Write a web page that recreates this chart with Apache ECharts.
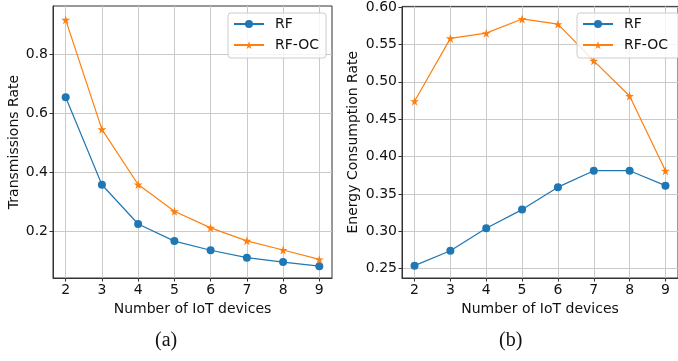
<!DOCTYPE html>
<html>
<head>
<meta charset="utf-8">
<script src="https://cdn.jsdelivr.net/npm/echarts@6/dist/echarts.min.js"></script>
<style>
  html, body { margin: 0; padding: 0; background: #fff; }
  #chart { width: 678px; height: 361px; }
</style>
</head>
<body>
<div id="chart"></div>
<script>
// x values (number of IoT devices)
const devices = [2, 3, 4, 5, 6, 7, 8, 9];

// (a) transmissions rate
const transRF = [0.655, 0.358, 0.225, 0.167, 0.136, 0.111, 0.096, 0.082];
const transRFOC = [0.917, 0.546, 0.359, 0.268, 0.212, 0.168, 0.137, 0.105];

// (b) energy consumption rate
const energyRF = [0.254, 0.274, 0.304, 0.329, 0.359, 0.381, 0.381, 0.361];
const energyRFOC = [0.474, 0.558, 0.565, 0.584, 0.577, 0.528, 0.481, 0.381];

// tick labels
const leftTicks = [0.2, 0.4, 0.6, 0.8];
const rightTicks = [0.25, 0.30, 0.35, 0.40, 0.45, 0.50, 0.55, 0.60];

const blue = "#1f77b4";
const orange = "#ff7f0e";
const starPath = "path://M50,0 L61,35 L98,35 L68,57 L79,91 L50,70 L21,91 L32,57 L2,35 L39,35 Z";
const font = "DejaVu Sans";
const textColor = "#111";

const pairs = (ys) => devices.map((x, i) => [x, ys[i]]);

function xAxisFor(gridIndex) {
  return {
    type: "value",
    gridIndex: gridIndex,
    min: 1.65,
    max: 9.35,
    name: "Number of IoT devices",
    nameLocation: "middle",
    nameGap: 21,
    nameTextStyle: { fontFamily: font, fontSize: 14, color: textColor },
    axisLine: { show: true, onZero: false, lineStyle: { color: "#333", width: 1 } },
    axisTick: { show: true, length: 3.5, customValues: devices, lineStyle: { color: "#333" } },
    axisLabel: { customValues: devices, margin: 5, fontFamily: font, fontSize: 14, color: textColor },
    splitLine: { show: true, lineStyle: { color: "#cacaca", width: 1 } },
  };
}

function yAxisFor(gridIndex, min, max, ticks, name, gap, fmt) {
  return {
    type: "value",
    gridIndex: gridIndex,
    min: min,
    max: max,
    name: name,
    nameLocation: "middle",
    nameRotate: 90,
    nameGap: gap,
    nameTextStyle: { fontFamily: font, fontSize: 14, color: textColor },
    axisLine: { show: true, onZero: false, lineStyle: { color: "#333", width: 1 } },
    axisTick: { show: true, length: 3.5, customValues: ticks, lineStyle: { color: "#333" } },
    axisLabel: {
      customValues: ticks,
      margin: 5,
      fontFamily: font,
      fontSize: 14,
      color: textColor,
      formatter: (v) => v.toFixed(fmt),
    },
    splitLine: { show: true, lineStyle: { color: "#cacaca", width: 1 } },
  };
}

function legendFor(id, left, top, names) {
  return {
    id: id,
    orient: "vertical",
    left: left,
    top: top,
    data: names,
    padding: [4, 7, 6, 5],
    itemGap: 7,
    itemWidth: 30,
    itemHeight: 10,
    backgroundColor: "rgba(255,255,255,0.8)",
    borderColor: "#cccccc",
    borderWidth: 1,
    borderRadius: 3,
    textStyle: { fontFamily: font, fontSize: 14, color: textColor, padding: [0, 0, 0, 6] },
  };
}

function lineSeries(name, data, idx, color, symbol, size) {
  return {
    name: name,
    type: "line",
    xAxisIndex: idx,
    yAxisIndex: idx,
    data: pairs(data),
    symbol: symbol,
    symbolSize: size,
    showAllSymbol: true,
    lineStyle: { color: color, width: 1.2 },
    itemStyle: { color: color },
  };
}

const chart = echarts.init(document.getElementById("chart"), null, { renderer: "canvas" });
chart.setOption({
  animation: false,
  backgroundColor: "#fff",
  grid: [
    { left: 53, top: 6, width: 279, height: 272, show: true, borderColor: "#333", borderWidth: 1, backgroundColor: "transparent" },
    { left: 402, top: 5, width: 279, height: 273, show: true, borderColor: "#333", borderWidth: 1, backgroundColor: "transparent" },
  ],
  xAxis: [xAxisFor(0), xAxisFor(1)],
  yAxis: [
    yAxisFor(0, 0.042, 0.964, leftTicks, "Transmissions Rate", 31, 1),
    yAxisFor(1, 0.2375, 0.6008, rightTicks, "Energy Consumption Rate", 42, 2),
  ],
  // panel (b) series names carry a trailing space so each legend only lists its own panel
  legend: [
    legendFor("la", 228, 13, ["RF", "RF-OC"]),
    legendFor("lb", 577, 13, ["RF ", "RF-OC "]),
  ],
  series: [
    lineSeries("RF", transRF, 0, blue, "circle", 8),
    lineSeries("RF-OC", transRFOC, 0, orange, starPath, 9),
    lineSeries("RF ", energyRF, 1, blue, "circle", 8),
    lineSeries("RF-OC ", energyRFOC, 1, orange, starPath, 9),
  ],
  graphic: [
    { type: "text", left: 155, top: 331, style: { text: "(a)", font: "20px 'Liberation Serif'", fill: "#111" } },
    { type: "text", left: 499, top: 331, style: { text: "(b)", font: "20px 'Liberation Serif'", fill: "#111" } },
  ],
});
</script>
</body>
</html>
